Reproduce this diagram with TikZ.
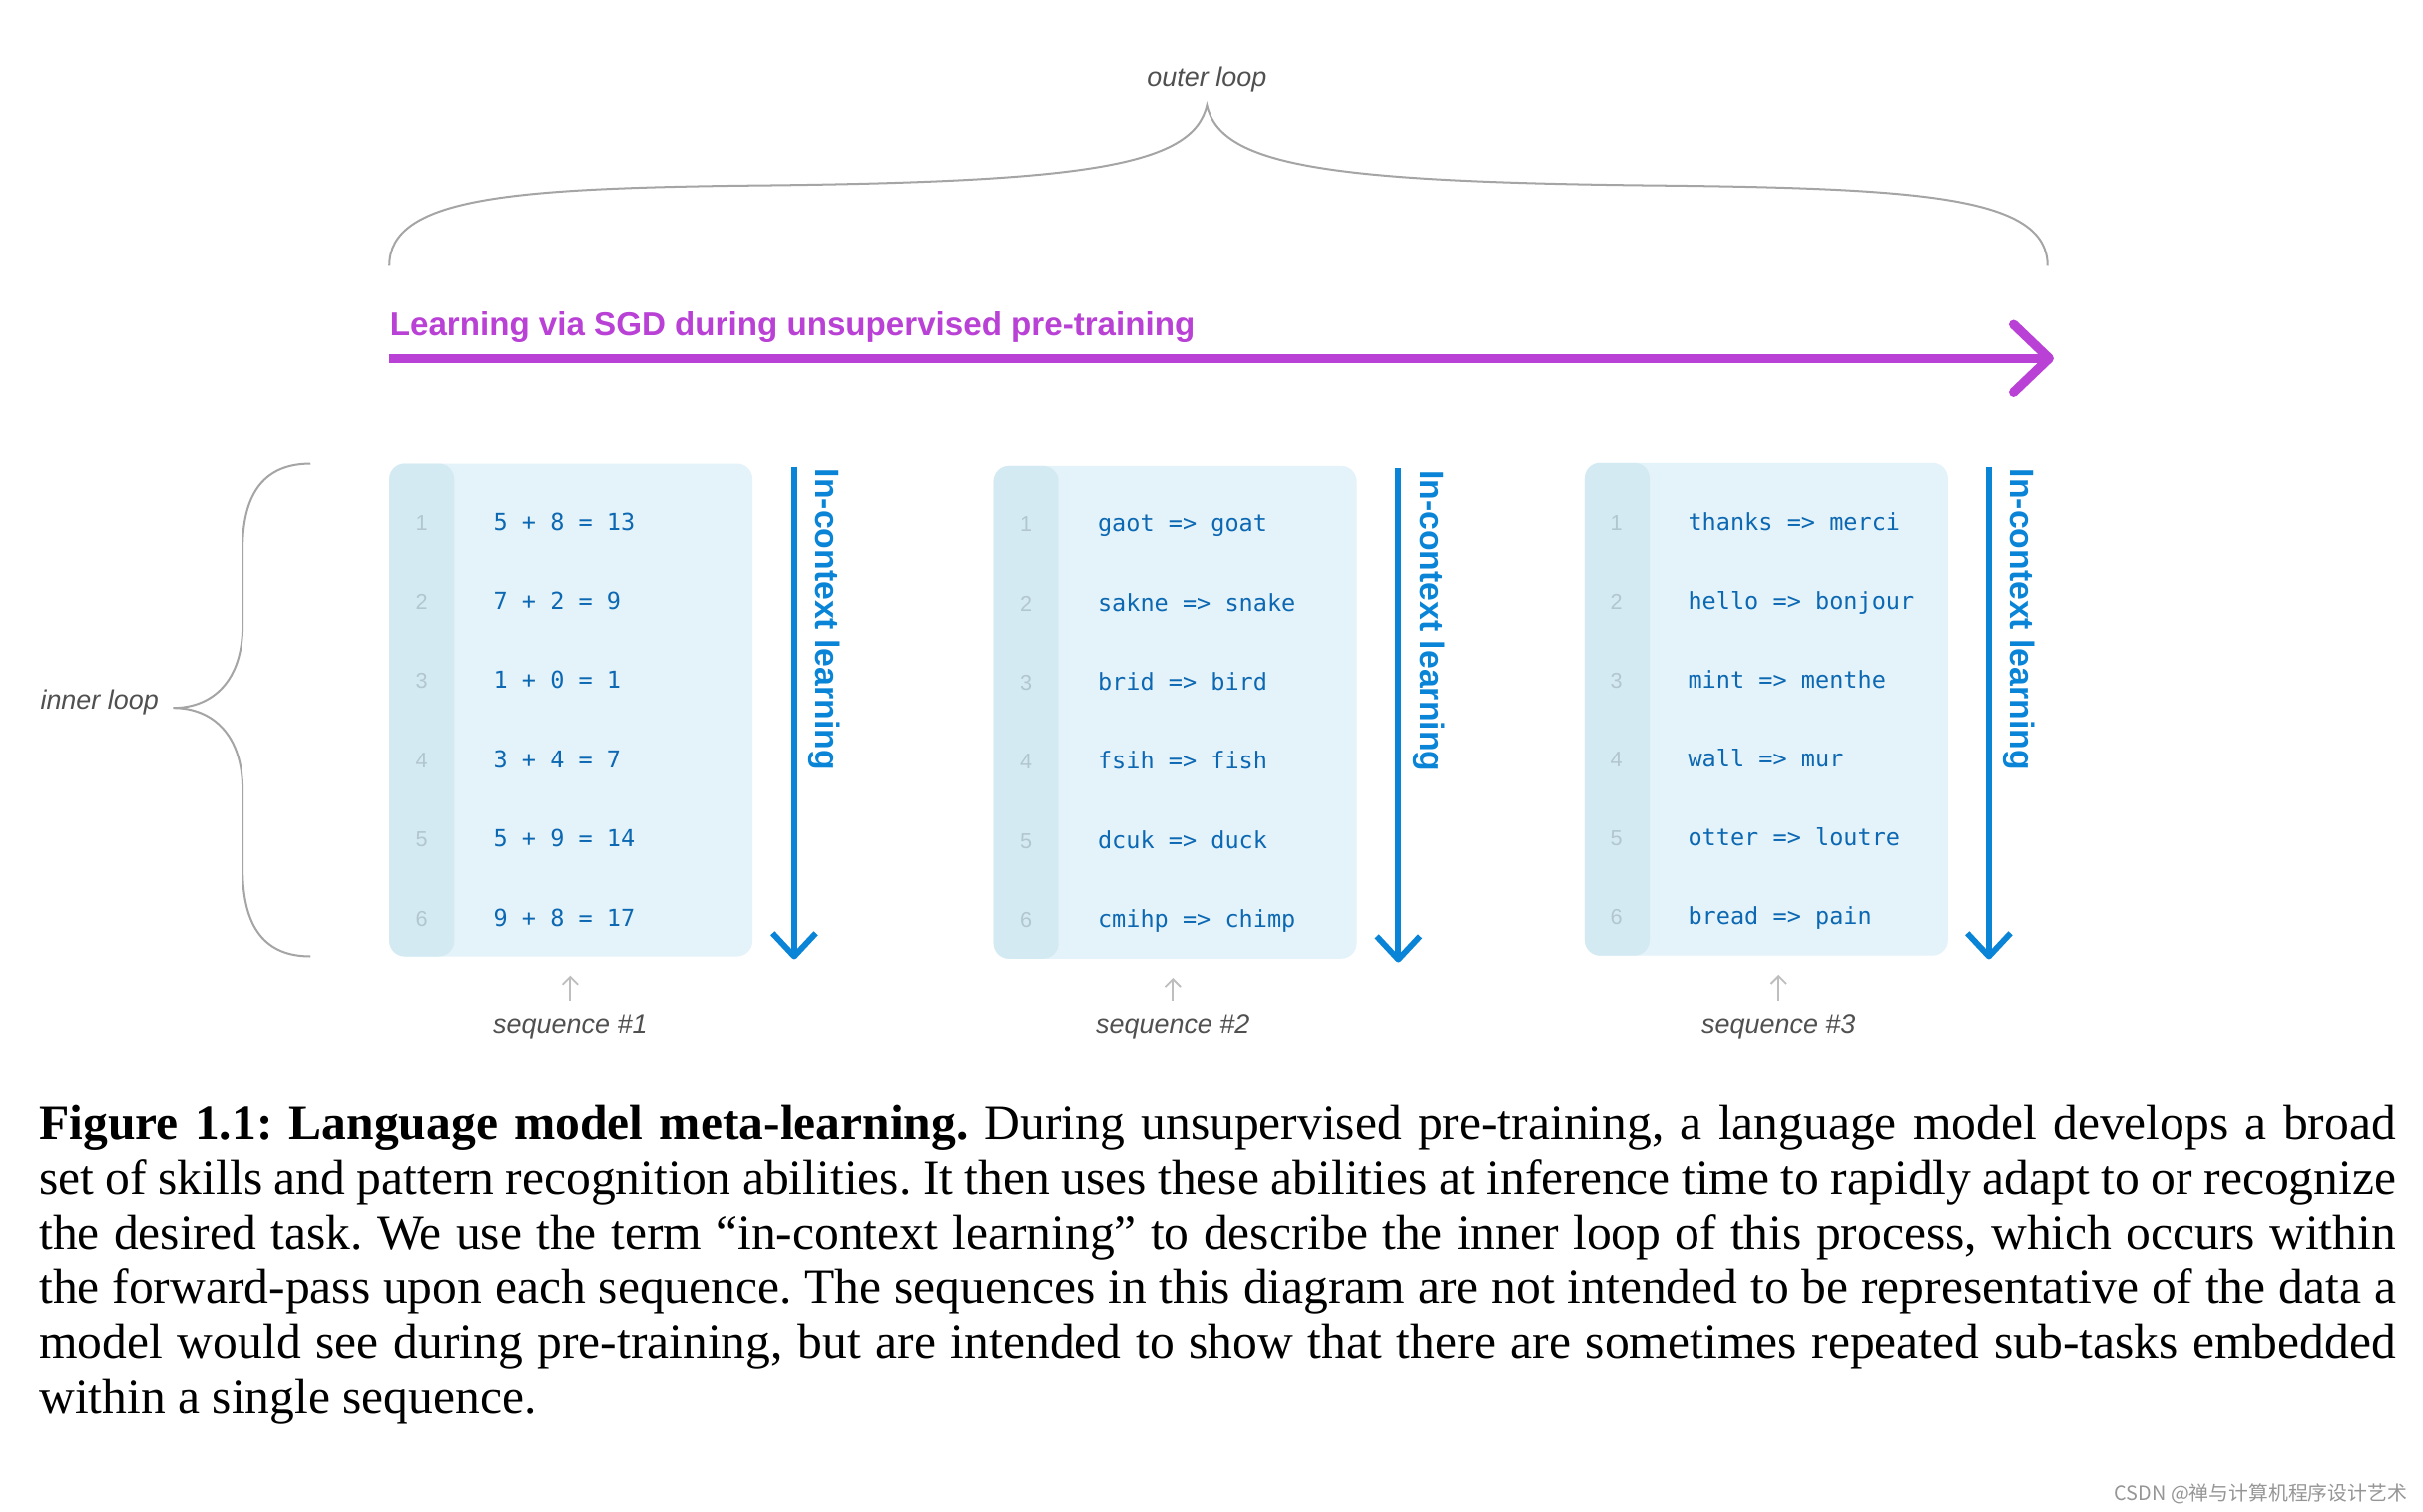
\documentclass[tikz,border=0pt]{standalone}
\usepackage{fontspec}
\setmainfont{Liberation Serif}
\setsansfont{Liberation Sans}
\setmonofont{DejaVu Sans Mono}
\newfontfamily\cjkfont{Noto Sans CJK SC}
\usetikzlibrary{arrows.meta,calc}
\definecolor{sgdpurple}{RGB}{185,65,213}
\definecolor{icblue}{RGB}{10,132,214}
\definecolor{codeblue}{RGB}{12,104,178}
\definecolor{boxbg}{RGB}{228,243,249}
\definecolor{gutterbg}{RGB}{212,234,243}
\definecolor{numgray}{RGB}{178,198,208}
\definecolor{bracegray}{RGB}{165,165,165}
\definecolor{lblgray}{RGB}{80,80,80}
\definecolor{seqgray}{RGB}{190,190,190}
\definecolor{wmgray}{RGB}{150,150,150}
\frenchspacing
\newcommand\capline[1]{{\spaceskip=0.25em plus 0.4em minus 0.15em\relax\makebox[762.5pt][s]{#1}}}
\begin{document}
\begin{tikzpicture}[x=0.5pt,y=-0.5pt,
  seqbox/.style={fill=boxbg, rounded corners=5pt, minimum width=117.5pt, minimum height=159.5pt, inner sep=0pt,
    path picture={\fill[gutterbg] (path picture bounding box.north west) rectangle ([xshift=21pt]path picture bounding box.south west);}},
  lbl/.style={font=\sffamily\itshape\fontsize{8.7pt}{10pt}\selectfont, text=lblgray, inner sep=0pt},
  codetxt/.style={font=\ttfamily\fontsize{7.6pt}{9pt}\selectfont, text=codeblue, inner sep=0pt, anchor=base west},
  lnum/.style={font=\sffamily\fontsize{7pt}{8pt}\selectfont, text=numgray, inner sep=0pt, anchor=base},
  ictext/.style={font=\sffamily\bfseries\fontsize{10.9pt}{12pt}\selectfont, text=icblue, inner sep=0pt, rotate=-90, anchor=base west},
  icarrow/.style={draw=icblue, line width=1.9pt, line join=round},
  sgdline/.style={draw=sgdpurple, line width=3pt, line join=round},
  bracepath/.style={draw=bracegray, line width=0.65pt},
  seqarrow/.style={draw=seqgray, line width=0.6pt, -{Straight Barb[length=2.5pt,width=5pt]}},
  captxt/.style={font=\fontsize{16pt}{17.8pt}\selectfont, anchor=base west, inner sep=0pt}
]
\fill[white] (0,0) rectangle (1568,978);
\useasboundingbox (0,0) rectangle (1568,978);

% outer loop brace
\node[lbl, anchor=base] (outer) at (781,56) {outer loop};
\coordinate (obL) at (252,172);
\coordinate (obM) at (781,68);
\coordinate (obR) at (1325,172);
\draw[bracepath] (obL) .. controls (252,128) and (330,122) .. (480,120)
  .. controls (700,118) and (772,108) .. (obM)
  .. controls (790,108) and (862,118) .. (1082,120)
  .. controls (1247,122) and (1325,128) .. (obR);

% SGD arrow
\node[font=\sffamily\bfseries\fontsize{10.7pt}{12pt}\selectfont, text=sgdpurple, anchor=base west, inner sep=0pt] (sgdlbl) at (252,217) {Learning via SGD during unsupervised pre-training};
\coordinate (sgdL) at (252,232);
\coordinate (sgdR) at (1326,232);
\draw[sgdline] (sgdL) -- (sgdR);
\draw[sgdline, line cap=round] ($(sgdR)+(-23,-22)$) -- (sgdR) -- ($(sgdR)+(-23,22)$);

% inner loop brace
\node[lbl, anchor=base east] (inner) at (103,459) {inner loop};
\coordinate (ibT) at (201,300);
\coordinate (ibTip) at (112,458);
\coordinate (ibB) at (201,619);
\draw[bracepath] (ibT) .. controls (172,300) and (157,318) .. (157,355) -- (157,405)
  .. controls (157,440) and (138,458) .. (ibTip)
  .. controls (138,458) and (157,476) .. (157,511) -- (157,562)
  .. controls (157,601) and (172,619) .. (ibB);

% sequence boxes
\node[seqbox] (box1) at (369.5,459.5) {};
\node[seqbox] (box2) at (760.5,461) {};
\node[seqbox] (box3) at (1143,459) {};

\foreach \txt [count=\i] in {5 + 8 = 13, 7 + 2 = 9, 1 + 0 = 1, 3 + 4 = 7, 5 + 9 = 14, 9 + 8 = 17} {
  \node[codetxt] (c1-\i) at (319,{343+51.3*(\i-1)}) {\txt};
  \node[lnum] (n1-\i) at (273,{343+51.3*(\i-1)}) {\i};
}
\foreach \txt [count=\i] in {gaot => goat, sakne => snake, brid => bird, fsih => fish, dcuk => duck, cmihp => chimp} {
  \node[codetxt] (c2-\i) at (710,{344+51.3*(\i-1)}) {\txt};
  \node[lnum] (n2-\i) at (664,{344+51.3*(\i-1)}) {\i};
}
\foreach \txt [count=\i] in {thanks => merci, hello => bonjour, mint => menthe, wall => mur, otter => loutre, bread => pain} {
  \node[codetxt] (c3-\i) at (1092,{343+51.1*(\i-1)}) {\txt};
  \node[lnum] (n3-\i) at (1046,{343+51.1*(\i-1)}) {\i};
}

% in-context arrows
\foreach \k/\ax/\at/\ab in {1/514/302/619, 2/905/303/621, 3/1287/302/619} {
  \coordinate (ict\k) at (\ax,\at);
  \coordinate (icb\k) at (\ax,\ab);
  \draw[icarrow] (ict\k) -- (icb\k);
  \draw[icarrow] ($(icb\k)+(-14,-15)$) -- (icb\k) -- ($(icb\k)+(14,-15)$);
  \node[ictext] (ic\k) at ({\ax+14.2},{\at+1}) {In-context learning};
}

% sequence labels
\node[lbl, anchor=base] (sq1) at (369,669) {sequence \#1};
\node[lbl, anchor=base] (sq2) at (759,669) {sequence \#2};
\node[lbl, anchor=base] (sq3) at (1151,669) {sequence \#3};
\draw[seqarrow, shorten <=4.5pt, shorten >=6pt] (sq1.north) -- (sq1.north |- box1.south);
\draw[seqarrow, shorten <=4.5pt, shorten >=6pt] (sq2.north) -- (sq2.north |- box2.south);
\draw[seqarrow, shorten <=4.5pt, shorten >=6pt] (sq3.north) -- (sq3.north |- box3.south);

% caption
\node[captxt] (cap1) at (25,737) {\capline{\textbf{Figure 1.1: Language model meta-learning.} During unsupervised pre-training, a language model develops a broad}};
\node[captxt] (cap2) at (25,772.6) {\capline{set of skills and pattern recognition abilities. It then uses these abilities at inference time to rapidly adapt to or recognize}};
\node[captxt] (cap3) at (25,808.2) {\capline{the desired task. We use the term “in-context learning” to describe the inner loop of this process, which occurs within}};
\node[captxt] (cap4) at (25,843.8) {\capline{the forward-pass upon each sequence. The sequences in this diagram are not intended to be representative of the data a}};
\node[captxt] (cap5) at (25,879.4) {\capline{model would see during pre-training, but are intended to show that there are sometimes repeated sub-tasks embedded}};
\node[captxt] (cap6) at (25,915) {within a single sequence.};

% watermark
\node[anchor=base east, font=\cjkfont\fontsize{6.4pt}{7pt}\selectfont, text=wmgray, inner sep=0pt] (wm) at (1558,971) {CSDN @禅与计算机程序设计艺术};
\end{tikzpicture}
\end{document}
